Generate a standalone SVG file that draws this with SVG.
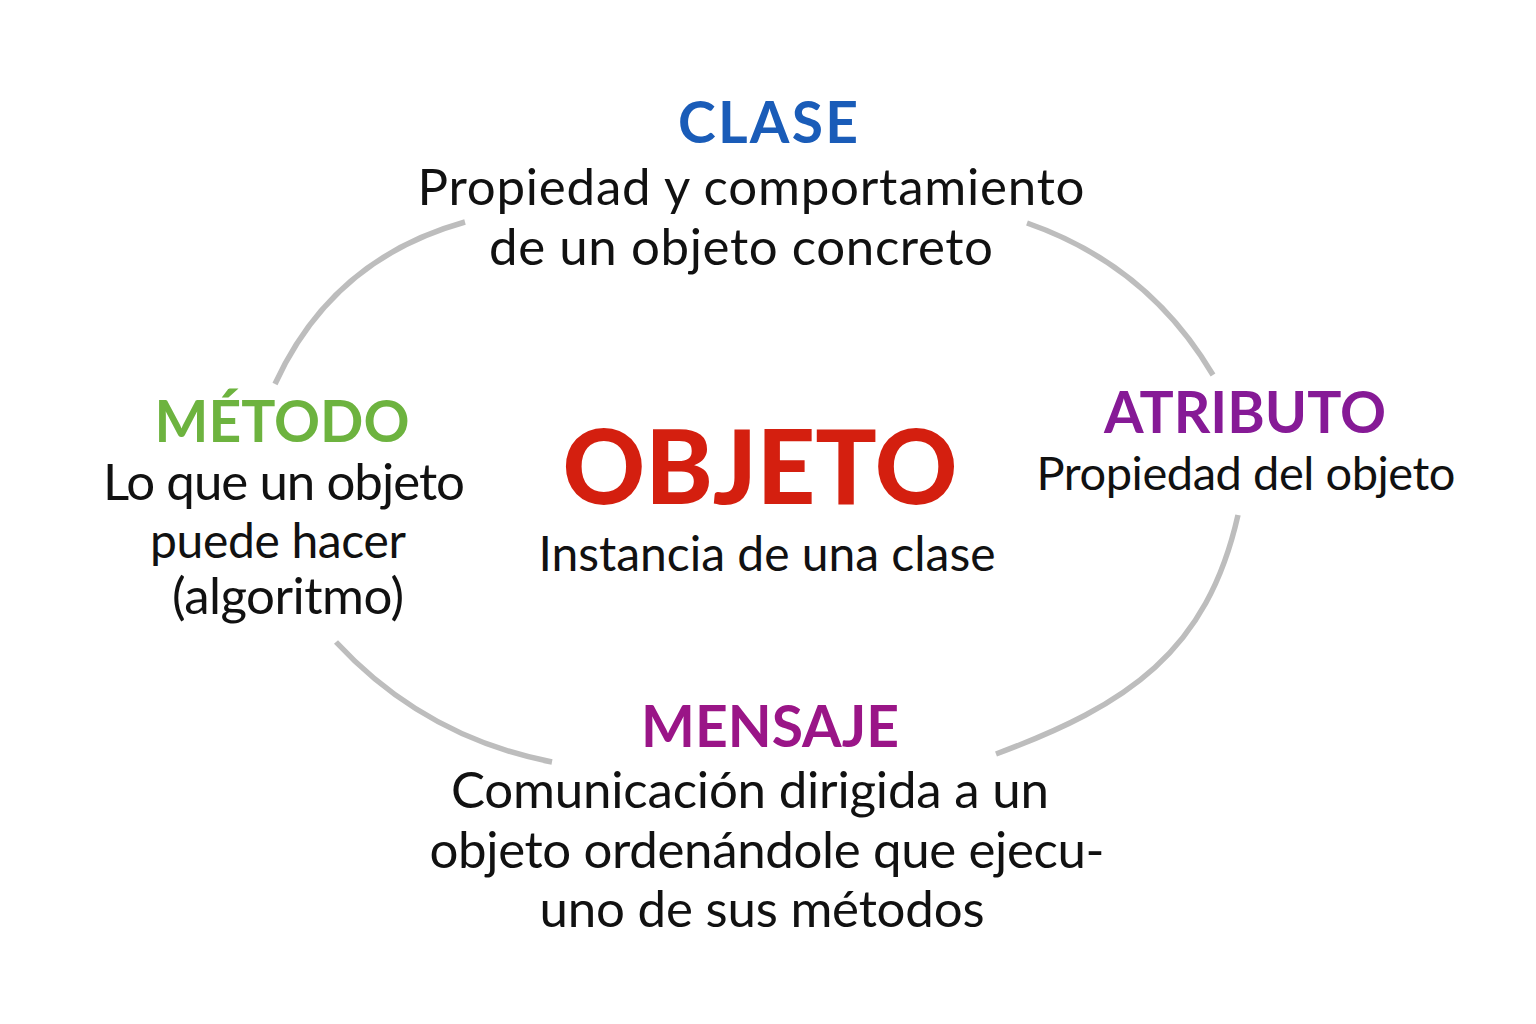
<svg xmlns="http://www.w3.org/2000/svg" width="1536" height="1024" viewBox="0 0 1536 1024">
<style>
.arc{fill:none;stroke:#bdbdbd;stroke-width:5.5;stroke-linecap:butt}
.h{font-family:Lato,"Open Sans","Liberation Sans",sans-serif;font-weight:700;font-size:57px;text-anchor:middle}
.b{font-family:Lato,"Open Sans","Liberation Sans",sans-serif;font-weight:400;font-size:51px;fill:#111;text-anchor:middle}
.s{font-size:48px}
.t{font-family:Lato,"Open Sans","Liberation Sans",sans-serif;font-weight:900;font-size:102px;fill:#d41f0f;text-anchor:middle}
</style>
<rect width="1536" height="1024" fill="#ffffff"/>
<g id="connectors">
<path class="arc" d="M275,384 Q332,259 465,222"/>
<path class="arc" d="M1027,223 Q1148,265 1213,375"/>
<path class="arc" d="M336,642 Q424,737 552,762"/>
<path class="arc" d="M1238,515 C1207,652 1128,705 996,754"/>
</g>
<g id="clase">
<text class="h" x="768" y="143" fill="#1a5cb8" textLength="180">CLASE</text>
<text class="b" x="751" y="205" textLength="667">Propiedad y comportamiento</text>
<text class="b" x="741" y="265" textLength="504">de un objeto concreto</text>
</g>
<g id="metodo">
<text class="h" x="282" y="442" fill="#6db33f">MÉTODO</text>
<text class="b" x="284" y="500" textLength="362">Lo que un objeto</text>
<text class="b s" x="278" y="558" textLength="256">puede hacer</text>
<text class="b" x="288" y="614" textLength="232">(algoritmo)</text>
</g>
<g id="objeto">
<text class="t" x="760" y="504">OBJETO</text>
<text class="b s" x="767" y="571" textLength="457">Instancia de una clase</text>
</g>
<g id="atributo">
<text class="h" x="1245" y="433" fill="#861a96">ATRIBUTO</text>
<text class="b" x="1246" y="490" style="font-size:47px" textLength="419">Propiedad del objeto</text>
</g>
<g id="mensaje">
<text class="h" x="770" y="747" fill="#9a1587">MENSAJE</text>
<text class="b" x="750" y="808" textLength="598">Comunicación dirigida a un</text>
<text class="b" x="767" y="868" textLength="675">objeto ordenándole que ejecu-</text>
<text class="b" x="762" y="927" textLength="445">uno de sus métodos</text>
</g>
</svg>
